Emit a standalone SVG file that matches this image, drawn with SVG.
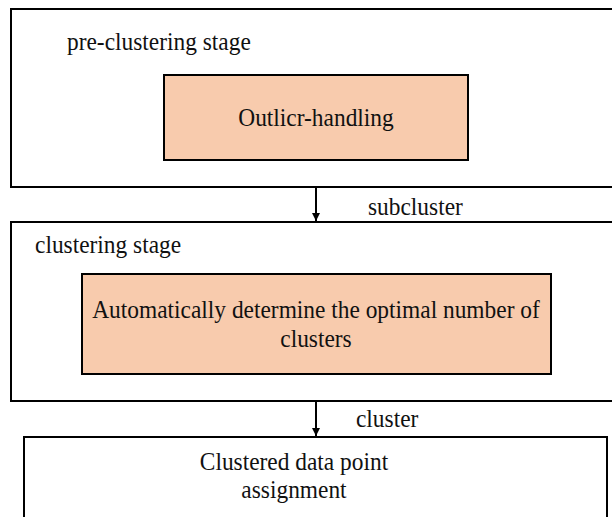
<svg xmlns="http://www.w3.org/2000/svg" width="612" height="517" viewBox="0 0 612 517">
  <style>
    .stage { fill: #ffffff; stroke: #000000; stroke-width: 2; }
    .step { fill: #F8CBAD; stroke: #000000; stroke-width: 2; }
    .plain { fill: #ffffff; stroke: #000000; stroke-width: 2; }
    .label { font-size: 23.4px; fill: #111111; }
    .mid { text-anchor: middle; }
    .link { stroke: #000000; stroke-width: 2; fill: none; }
  </style>
  <defs>
    <marker id="arrow" viewBox="0 0 10 10" refX="10" refY="5" markerWidth="4" markerHeight="5" orient="auto" markerUnits="strokeWidth">
      <path d="M0,0 L10,5 L0,10 z" fill="#000000"/>
    </marker>
  </defs>

  <rect width="612" height="517" fill="#ffffff"/>

  <!-- labels are stretched 8% vertically about their own baseline -->
  <g font-family="'Liberation Serif', Tinos, 'DejaVu Serif', serif">
    <!-- pre-clustering stage -->
    <g id="pre-clustering-stage">
      <rect class="stage" x="11" y="9" width="610" height="178"/>
      <text class="label" x="67" y="50" transform="matrix(1 0 0 1.08 0 -4)">pre-clustering stage</text>
    </g>
    <g id="outlier-handling">
      <rect class="step" x="164" y="75" width="304" height="85"/>
      <text class="label mid" x="316" y="126" transform="matrix(1 0 0 1.08 0 -10.08)">Outlicr-handling</text>
    </g>

    <!-- clustering stage -->
    <g id="clustering-stage">
      <rect class="stage" x="11" y="222" width="610" height="179"/>
      <text class="label" x="35" y="253" transform="matrix(1 0 0 1.08 0 -20.24)">clustering stage</text>
    </g>
    <g id="optimal-k">
      <rect class="step" x="82" y="274" width="469" height="100"/>
      <text class="label mid" x="316" y="318" transform="matrix(1 0 0 1.08 0 -25.44)">Automatically determine the optimal number of</text>
      <text class="label mid" x="316" y="347" transform="matrix(1 0 0 1.08 0 -27.76)">clusters</text>
    </g>

    <!-- final assignment -->
    <g id="assignment">
      <rect class="plain" x="24" y="437" width="583" height="100"/>
      <text class="label mid" x="294" y="470" transform="matrix(1 0 0 1.08 0 -37.6)">Clustered data point</text>
      <text class="label mid" x="294" y="498" transform="matrix(1 0 0 1.08 0 -39.84)">assignment</text>
    </g>

    <!-- connectors -->
    <g id="connectors">
      <line class="link" x1="316" y1="187" x2="316" y2="221" marker-end="url(#arrow)"/>
      <text class="label" x="368" y="215" transform="matrix(1 0 0 1.08 0 -17.2)">subcluster</text>
      <line class="link" x1="316" y1="401" x2="316" y2="436" marker-end="url(#arrow)"/>
      <text class="label" x="356" y="427" transform="matrix(1 0 0 1.08 0 -34.16)">cluster</text>
    </g>
  </g>
</svg>
